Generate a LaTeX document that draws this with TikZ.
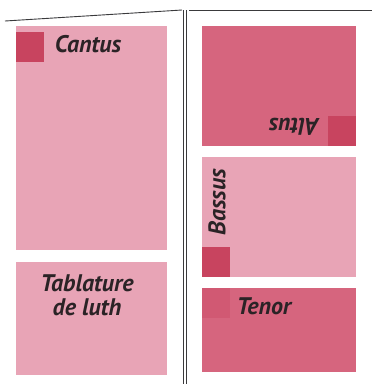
\documentclass[tikz,border=0pt]{standalone}
\usepackage{fontspec}
\setmainfont{PT Sans}
\usetikzlibrary{positioning}
\definecolor{rose}{HTML}{E8A4B6}
\definecolor{rosedeep}{HTML}{D6657E}
\definecolor{crimson}{HTML}{C8445F}
\definecolor{ink}{HTML}{2B2326}
\definecolor{rulegray}{HTML}{3A3A3C}
\tikzset{part/.style={fill=rose,draw=none,anchor=north west,inner sep=0pt,outer sep=0pt}, deep/.style={part,fill=rosedeep}, tabmark/.style={fill=crimson,draw=none,inner sep=0pt,outer sep=0pt,minimum width=28pt,minimum height=30pt}, voice/.style={font=\fontsize{24}{24}\selectfont\bfseries\itshape,text=ink,inner sep=0pt,align=center}, pagerule/.style={draw=rulegray,line width=0.9pt}}
\begin{document}
\begin{tikzpicture}[x=1pt,y=-1pt]
\useasboundingbox (0,0) rectangle (372,384);
\fill[white] (0,0) rectangle (372,384);
% left page
\node[part,minimum width=151pt,minimum height=224pt] (cantus) at (16,26) {};
\node[part,minimum width=151pt,minimum height=113pt] (luth) at (16,262) {};
% right page
\node[deep,minimum width=154pt,minimum height=120pt] (altus) at (202,26) {};
\node[part,minimum width=154pt,minimum height=120pt] (bassus) at (202,157) {};
\node[deep,minimum width=154pt,minimum height=84pt] (tenor) at (202,288) {};
% corner marks
\node[tabmark,anchor=north west] (cantusmark) at ([yshift=-6pt]cantus.north west) {};
\node[tabmark,anchor=south east] (altusmark) at (altus.south east) {};
\node[tabmark,anchor=south west] (bassusmark) at (bassus.south west) {};
\node[tabmark,anchor=north west,fill=crimson!35!rosedeep] (tenormark) at (tenor.north west) {};
% labels
\node[voice] (cantuslabel) at (88,44) {Cantus};
\node[voice] (luthlabel) at (87,295) {Tablature\\de luth};
\node[voice,rotate=180] (altuslabel) at (294,127) {Altus};
\node[voice,rotate=90] (bassuslabel) at (217,202) {Bassus};
\node[voice] (tenorlabel) at (264,306) {Tenor};
% page edges
\draw[pagerule] (5,21) -- (182,10);
\draw[pagerule] (189,10) -- (372,10);
\draw[pagerule] (183,10) -- (183,384);
\draw[pagerule] (186,10) -- (186,384);
\end{tikzpicture}
\end{document}
